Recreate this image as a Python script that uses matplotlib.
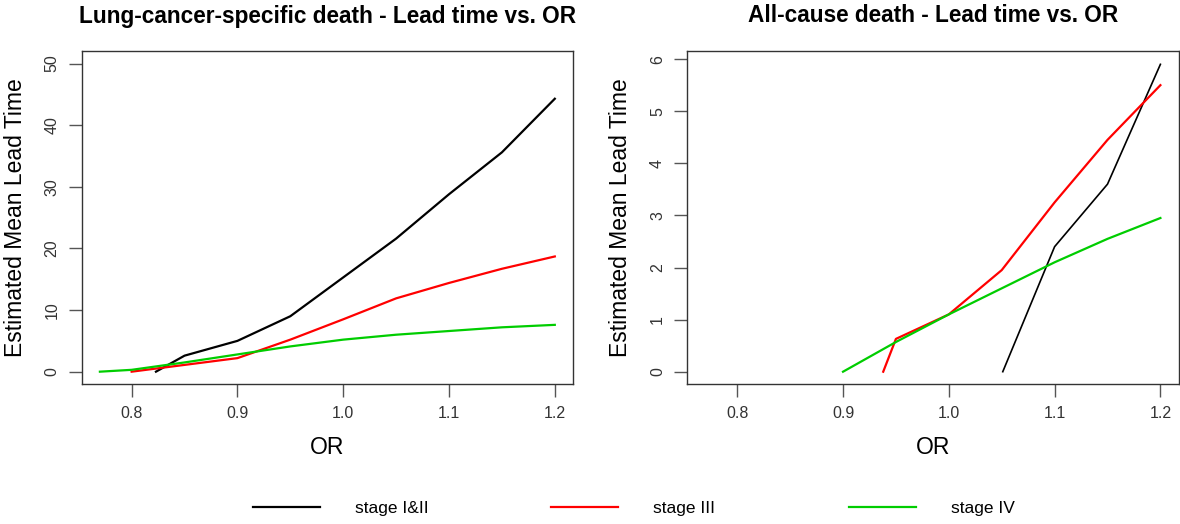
import matplotlib
matplotlib.use("Agg")
import matplotlib.pyplot as plt
from matplotlib.lines import Line2D

plt.rcParams['font.family'] = ['Liberation Sans', 'DejaVu Sans']

# ---- data ----
series_names = ["stage I&II", "stage III", "stage IV"]
series_colors = ["#000000", "#FF0000", "#00CD00"]

# Left panel: lung-cancer-specific death
lc_x_stage12 = [0.823, 0.85, 0.9, 0.95, 1.0, 1.05, 1.1, 1.15, 1.2]
lc_y_stage12 = [0.0, 2.6, 5.0, 9.0, 15.3, 21.6, 28.8, 35.6, 44.3]
lc_x_stage3 = [0.8, 0.85, 0.9, 0.95, 1.0, 1.05, 1.1, 1.15, 1.2]
lc_y_stage3 = [0.0, 1.1, 2.2, 5.2, 8.5, 11.9, 14.4, 16.7, 18.7]
lc_x_stage4 = [0.77, 0.8, 0.85, 0.9, 0.95, 1.0, 1.05, 1.1, 1.15, 1.2]
lc_y_stage4 = [0.0, 0.3, 1.5, 2.8, 4.1, 5.2, 6.0, 6.6, 7.2, 7.6]

# Right panel: all-cause death
ac_x_stage12 = [1.051, 1.1, 1.15, 1.2]
ac_y_stage12 = [0.0, 2.4, 3.6, 5.9]
ac_x_stage3 = [0.938, 0.95, 1.0, 1.05, 1.1, 1.15, 1.2]
ac_y_stage3 = [0.0, 0.63, 1.1, 1.95, 3.25, 4.45, 5.5]
ac_x_stage4 = [0.9, 0.95, 1.0, 1.05, 1.1, 1.15, 1.2]
ac_y_stage4 = [0.0, 0.57, 1.1, 1.6, 2.1, 2.55, 2.95]

x_ticks = [0.8, 0.9, 1.0, 1.1, 1.2]
x_tick_labels = ["0.8", "0.9", "1.0", "1.1", "1.2"]
lc_y_ticks = [0, 10, 20, 30, 40, 50]
ac_y_ticks = [0, 1, 2, 3, 4, 5, 6]

titles = ["Lung-cancer-specific death - Lead time vs. OR",
          "All-cause death - Lead time vs. OR"]
xlabel = "OR"
ylabel = "Estimated Mean Lead Time"

# ---- figure ----
W, H = 1180, 524
fig = plt.figure(figsize=(W / 100, H / 100), dpi=100)

ax_w = 491.3 / W
ax_h = 332.7 / H
ax_b = 1 - 384 / H
axL = fig.add_axes([81.7 / W, ax_b, ax_w, ax_h])
axR = fig.add_axes([687.3 / W, ax_b, ax_w, ax_h])

panels = [
    (axL, [(lc_x_stage12, lc_y_stage12), (lc_x_stage3, lc_y_stage3), (lc_x_stage4, lc_y_stage4)],
     lc_y_ticks, (-2.0, 52.0), [1.6, 1.6, 1.6]),
    (axR, [(ac_x_stage12, ac_y_stage12), (ac_x_stage3, ac_y_stage3), (ac_x_stage4, ac_y_stage4)],
     ac_y_ticks, (-0.236, 6.15), [1.2, 1.6, 1.6]),
]

for i, (ax, data, yt, ylim, lws) in enumerate(panels):
    for (xs, ys), c, lw in zip(data, series_colors, lws):
        ax.plot(xs, ys, color=c, lw=lw, solid_joinstyle='round')
    ax.set_xlim(0.7528, 1.2172)
    ax.set_ylim(*ylim)
    ax.set_xticks(x_ticks)
    ax.set_xticklabels(x_tick_labels)
    ax.set_yticks(yt)
    ax.set_yticklabels([str(v) for v in yt], rotation=90, va='center')
    ax.tick_params(axis='both', direction='out', length=9.5, width=1.0,
                   color='#555555', labelsize=11.5, labelcolor='#333333', pad=6.5)
    for s in ax.spines.values():
        s.set_linewidth(1.0)
        s.set_color('#333333')
    ax.set_xlabel(xlabel, fontsize=16.5)
    ax.set_ylabel(ylabel, fontsize=16.5)
    ax.xaxis.set_label_coords(0.5, (384 - 447) / 332.7)
    ax.xaxis.label.set_va('center')
    ax.yaxis.set_label_coords(-0.135, 0.5)
    ax.yaxis.label.set_va('center')
    ax.text(0.5, (384 - 16) / 332.7, titles[i], transform=ax.transAxes,
            ha='center', va='center', fontsize=16.3, fontweight='bold')

# ---- legend ----
legend_x = [253, 551, 849]
for name, c, lx in zip(series_names, series_colors, legend_x):
    h = Line2D([], [], color=c, lw=1.6)
    fig.legend([h], [name], loc='center left', bbox_to_anchor=(lx / W, 1 - 508 / H),
               frameon=False, fontsize=12.5, handlelength=3.85, handletextpad=2.0,
               borderpad=0, borderaxespad=0)

fig.savefig("out.png", dpi=100)
